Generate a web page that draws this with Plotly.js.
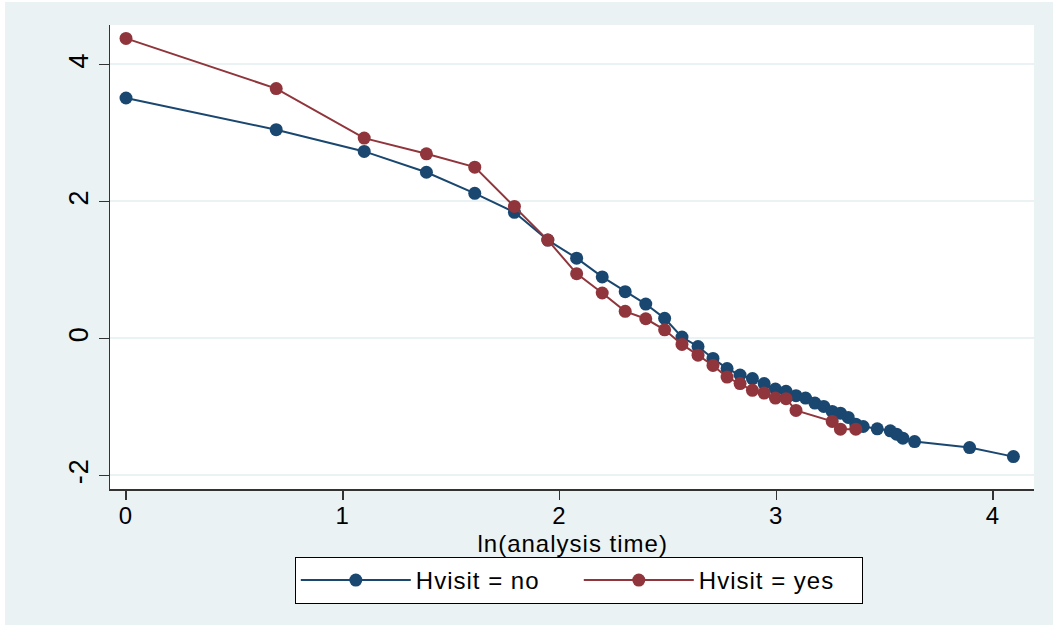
<!DOCTYPE html>
<html>
<head>
<meta charset="utf-8">
<script src="https://cdn.plot.ly/plotly-3.0.1.min.js"></script>
<style>
  html, body { margin: 0; padding: 0; background: #ffffff; }
  #chart { position: absolute; left: 5px; top: 2px; width: 1048px; height: 623px; }
  #chart svg text { letter-spacing: 1px; }
</style>
</head>
<body>
<div id="chart"></div>
<script>
// ln(analysis time) values and survival log-log values
const xNo = [0, 0.693, 1.099, 1.386, 1.609, 1.792, 1.946, 2.079, 2.197, 2.303, 2.398, 2.485, 2.565, 2.639, 2.708, 2.773, 2.833, 2.890, 2.944, 2.996, 3.045, 3.091, 3.135, 3.178, 3.219, 3.258, 3.296, 3.332, 3.367, 3.401, 3.466, 3.526, 3.555, 3.584, 3.638, 3.892, 4.094];
const yNo = [3.51, 3.047, 2.73, 2.426, 2.118, 1.84, 1.435, 1.171, 0.897, 0.682, 0.501, 0.292, 0.018, -0.119, -0.293, -0.441, -0.535, -0.588, -0.661, -0.740, -0.774, -0.837, -0.872, -0.945, -0.994, -1.067, -1.092, -1.155, -1.253, -1.287, -1.321, -1.350, -1.400, -1.458, -1.507, -1.595, -1.727];

const xYes = [0, 0.693, 1.099, 1.386, 1.609, 1.792, 1.946, 2.079, 2.197, 2.303, 2.398, 2.485, 2.565, 2.639, 2.708, 2.773, 2.833, 2.890, 2.944, 2.996, 3.045, 3.091, 3.258, 3.296, 3.367];
const yYes = [4.38, 3.648, 2.924, 2.695, 2.50, 1.927, 1.435, 0.945, 0.662, 0.394, 0.286, 0.125, -0.089, -0.246, -0.396, -0.566, -0.661, -0.759, -0.799, -0.872, -0.881, -1.052, -1.213, -1.326, -1.326];

const yTicks = [-2, 0, 2, 4];
const xTicks = [0, 1, 2, 3, 4];
const seriesNames = ["Hvisit = no", "Hvisit = yes"];
const xTitle = "ln(analysis time)";

const FONT = "Liberation Sans, Arial, sans-serif";
const BLUE = "#1a476f";
const RED = "#90353b";

const traces = [
  {
    x: xNo, y: yNo, name: seriesNames[0], type: "scatter", mode: "lines+markers",
    line: { color: BLUE, width: 2 },
    marker: { color: BLUE, size: 13 }
  },
  {
    x: xYes, y: yYes, name: seriesNames[1], type: "scatter", mode: "lines+markers",
    line: { color: RED, width: 2 },
    marker: { color: RED, size: 13 }
  }
];

const layout = {
  width: 1048, height: 623,
  paper_bgcolor: "#eaf2f3",
  plot_bgcolor: "#ffffff",
  font: { family: FONT, size: 24, color: "#000000" },
  margin: { l: 105, r: 19, t: 23, b: 136 },
  showlegend: true,
  xaxis: {
    range: [-0.0738, 4.189],
    tickvals: xTicks,
    ticktext: xTicks.map(String),
    ticks: "outside", ticklen: 9, tickwidth: 1.5, tickcolor: "#333333",
    ticklabelstandoff: -4,
    showline: true, linecolor: "#333333", linewidth: 1.5,
    showgrid: false, zeroline: false,
    tickfont: { family: FONT, size: 24, color: "#000000" }
  },
  yaxis: {
    range: [-2.20, 4.576],
    tickvals: yTicks,
    ticktext: yTicks.map(String),
    tickangle: -90,
    ticks: "outside", ticklen: 10, tickwidth: 1.5, tickcolor: "#333333",
    showline: true, linecolor: "#333333", linewidth: 1.5,
    showgrid: true, gridcolor: "#eaf2f3", gridwidth: 2,
    zeroline: false,
    tickfont: { family: FONT, size: 27, color: "#000000" }
  },
  annotations: [
    {
      text: xTitle, xref: "paper", yref: "paper",
      x: 0.5, y: -0.118, xanchor: "center", yanchor: "middle",
      showarrow: false,
      font: { family: FONT, size: 24, color: "#000000" }
    }
  ],
  legend: {
    orientation: "h",
    x: 0.2, xanchor: "left",
    y: -0.1466, yanchor: "top",
    bgcolor: "#ffffff",
    bordercolor: "#000000", borderwidth: 1,
    itemwidth: 110,
    entrywidth: 158, entrywidthmode: "pixels",
    font: { family: FONT, size: 24, color: "#000000" },
    itemclick: false, itemdoubleclick: false
  }
};

Plotly.newPlot("chart", traces, layout, { displayModeBar: false, staticPlot: true });
</script>
</body>
</html>
